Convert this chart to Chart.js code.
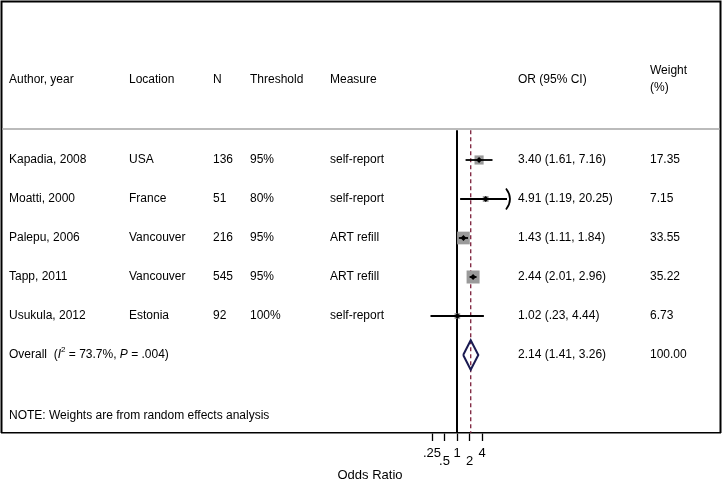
<!DOCTYPE html>
<html>
<head>
<meta charset="utf-8">
<script src="https://cdn.jsdelivr.net/npm/chart.js@4.4.1/dist/chart.umd.min.js"></script>
<style>
html,body{margin:0;padding:0;background:#fff;}
#wrap{width:722px;height:481px;position:relative;}
</style>
</head>
<body>
<div id="wrap"><canvas id="c" width="722" height="481"></canvas></div>
<script>
// ---- data ----
const studies = ['Kapadia, 2008','Moatti, 2000','Palepu, 2006','Tapp, 2011','Usukula, 2012'];
const locations = ['USA','France','Vancouver','Vancouver','Estonia'];
const sampleSizes = ['136','51','216','545','92'];
const thresholds = ['95%','80%','95%','95%','100%'];
const measures = ['self-report','self-report','ART refill','ART refill','self-report'];
const orEst = [3.40, 4.91, 1.43, 2.44, 1.02];
const orLow = [1.61, 1.19, 1.11, 2.01, 0.23];
const orHigh = [7.16, 20.25, 1.84, 2.96, 4.44];
const weights = [17.35, 7.15, 33.55, 35.22, 6.73];
const overallEst = 2.14, overallLow = 1.41, overallHigh = 3.26, overallWeight = 100.00;
const overallI2 = '73.7%', overallP = '.004';
const tickValues = [0.25, 0.5, 1, 2, 4];
const tickLabels = ['.25', '.5', '1', '2', '4'];
const headers = ['Author, year','Location','N','Threshold','Measure','OR (95% CI)'];
const weightHeader = ['Weight','(%)'];
const noteText = 'NOTE: Weights are from random effects analysis';
const axisTitle = 'Odds Ratio';
const ciClip = 16;   // CI truncated (arrow) beyond this value

// ---- layout / style ----
const FONT = '"Liberation Sans", Arial, Helvetica, sans-serif';
const colX = [9, 129, 213, 250, 330, 518];
const weightX = 650;
const overallRow = studies.length;
const noteRow = 6.55;
const headerRow = -2.07;
const lineRow = -0.795;
const diamondHalf = 0.38;

const fmt = v => v.toFixed(2).replace(/^0\./, '.');
const orText = (e,l,h) => fmt(e) + ' (' + fmt(l) + ', ' + fmt(h) + ')';

const ciSets = studies.map((s,i) => ({
  type:'scatter', showLine:true, order:2,
  data:[{x:orLow[i], y:i},{x:Math.min(orHigh[i], ciClip), y:i}],
  borderColor:'#000', borderWidth:1.8, pointRadius:0
}));

const datasets = [
  {type:'scatter', order:5, showLine:true,
   data:[{x:1,y:lineRow+0.03},{x:1,y:7}], borderColor:'#000', borderWidth:2, pointRadius:0},
  {type:'scatter', order:4, showLine:true,
   data:[{x:overallEst,y:lineRow+0.03},{x:overallEst,y:7}], borderColor:'#7b1f3a', borderWidth:1.3,
   borderDash:[4,3], pointRadius:0},
  {type:'scatter', order:3,
   data: orEst.map((v,i)=>({x:v,y:i})),
   pointStyle:'rect', pointRadius: weights.map(w=>1.55*Math.sqrt(w)),
   backgroundColor:'#9a9a9a', borderWidth:0},
  ...ciSets,
  {type:'scatter', order:1,
   data: orEst.map((v,i)=>({x:v,y:i})),
   pointStyle:'rectRot', pointRadius:3, backgroundColor:'#000', borderColor:'#000', borderWidth:0},
  {type:'scatter', order:1, showLine:true,
   data:[{x:overallLow,y:overallRow},{x:overallEst,y:overallRow-diamondHalf},{x:overallHigh,y:overallRow},
         {x:overallEst,y:overallRow+diamondHalf},{x:overallLow,y:overallRow}],
   borderColor:'#1b1b52', borderWidth:2, pointRadius:0, tension:0}
];

const tablePlugin = {
  id:'table',
  afterDatasetsDraw(chart){
    const ctx = chart.ctx, y = chart.scales.y, x = chart.scales.x;
    const ca = chart.chartArea;
    ctx.save();
    // frame
    ctx.strokeStyle = '#000'; ctx.lineWidth = 2;
    ctx.beginPath();
    ctx.moveTo(1.5, ca.bottom); ctx.lineTo(1.5, 1.5); ctx.lineTo(720.5, 1.5); ctx.lineTo(720.5, ca.bottom);
    ctx.stroke();
    // header separator
    ctx.strokeStyle = '#a4a4a4'; ctx.lineWidth = 1.5;
    const ly = y.getPixelForValue(lineRow);
    ctx.beginPath(); ctx.moveTo(2, ly); ctx.lineTo(720, ly); ctx.stroke();
    // arrows for truncated CIs
    ctx.strokeStyle = '#000'; ctx.lineWidth = 1.7;
    orHigh.forEach((h,i)=>{
      if (h > ciClip){
        const px = x.getPixelForValue(ciClip), py = y.getPixelForValue(i);
        ctx.beginPath(); ctx.moveTo(px-1, py-10.5); ctx.quadraticCurveTo(px+7, py, px-1, py+10.5); ctx.stroke();
      }
    });
    // text
    ctx.fillStyle = '#000';
    ctx.font = '12px ' + FONT;
    ctx.textBaseline = 'middle'; ctx.textAlign = 'left';
    const hy = y.getPixelForValue(headerRow);
    headers.forEach((h,k)=> ctx.fillText(h, colX[k], hy));
    ctx.fillText(weightHeader[0], weightX, hy-8.5);
    ctx.fillText(weightHeader[1], weightX, hy+8.5);
    studies.forEach((s,i)=>{
      const py = y.getPixelForValue(i);
      const cols = [s, locations[i], sampleSizes[i], thresholds[i], measures[i], orText(orEst[i],orLow[i],orHigh[i])];
      cols.forEach((t,k)=> ctx.fillText(t, colX[k], py));
      ctx.fillText(weights[i].toFixed(2), weightX, py);
    });
    // overall row
    const oy = y.getPixelForValue(overallRow);
    let cx = colX[0];
    const seg = (t, font, dy) => { ctx.font = font; ctx.fillText(t, cx, oy + (dy||0)); cx += ctx.measureText(t).width; };
    seg('Overall  (', '12px ' + FONT);
    seg('I', 'italic 12px ' + FONT);
    seg('2', '8px ' + FONT, -5);
    seg(' = ' + overallI2 + ', ', '12px ' + FONT);
    seg('P', 'italic 12px ' + FONT);
    seg(' = ' + overallP + ')', '12px ' + FONT);
    ctx.font = '12px ' + FONT;
    ctx.fillText(orText(overallEst, overallLow, overallHigh), colX[5], oy);
    ctx.fillText(overallWeight.toFixed(2), weightX, oy);
    ctx.fillText(noteText, colX[0], y.getPixelForValue(noteRow));
    // axis title
    ctx.font = '13px ' + FONT; ctx.textAlign = 'center';
    ctx.fillText(axisTitle, 370, 475);
    ctx.restore();
  }
};

new Chart(document.getElementById('c'), {
  type:'scatter',
  data:{datasets},
  options:{
    responsive:false, animation:false, events:[],
    layout:{autoPadding:false, padding:{left:2, right:2, top:2, bottom:0}},
    plugins:{legend:{display:false}, tooltip:{enabled:false}},
    scales:{
      x:{
        type:'logarithmic', position:'bottom',
        min: Math.pow(2,-36.4), max: Math.pow(2,21.04),
        afterBuildTicks: s => { s.ticks = tickValues.map(v=>({value:v})); },
        afterFit: s => { s.height = 48; },
        grid:{display:true, drawOnChartArea:false, drawTicks:true, tickLength:8, tickColor:'#000', tickWidth:1.3},
        border:{display:true, color:'#000', width:1.5},
        ticks:{autoSkip:false, maxRotation:0, minRotation:0, padding:9, color:'#000',
               font:{family:FONT, size:13, lineHeight:0.6},
               callback:(v,i)=> i%2 ? ['', tickLabels[i]] : tickLabels[i]},
        title:{display:false}
      },
      y:{type:'linear', reverse:true, min:(2-160)/39, max:7, display:false}
    }
  },
  plugins:[tablePlugin]
});
</script>
</body>
</html>
